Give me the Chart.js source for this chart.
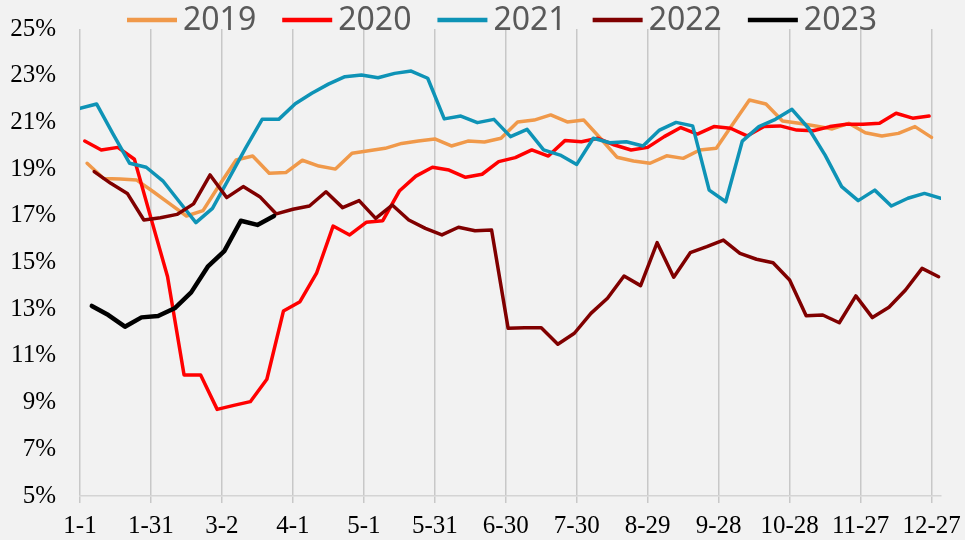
<!DOCTYPE html>
<html>
<head>
<meta charset="utf-8">
<script src="https://cdn.jsdelivr.net/npm/chart.js@4.4.1/dist/chart.umd.min.js"></script>
<style>
    html, body { margin: 0; padding: 0; background: #f2f2f2; }
    #wrap { width: 965px; height: 540px; }
</style>
</head>
<body>
<div id="wrap"><canvas id="rateChart" width="965" height="540"></canvas></div>
<script>
// x axis: day of year, ticks every 30 days
const tickDays = [0, 30, 60, 90, 120, 150, 180, 210, 240, 270, 300, 330, 360];
const tickLabels = ['1-1', '1-31', '3-2', '4-1', '5-1', '5-31', '6-30', '7-30', '8-29', '9-28', '10-28', '11-27', '12-27'];

// weekly series, first observation day of each year (day of year, 0 = 1-1)
const years = ['2019', '2020', '2021', '2022', '2023'];
const firstDay = [3, 2, 0, 6, 5];
const colors = ['#F0994A', '#FF0000', '#0E93B6', '#800000', '#000000'];

const v2019 = [19.25, 18.6, 18.58, 18.53, 18.03, 17.51, 16.99, 17.22, 18.33, 19.39,
    19.56, 18.82, 18.85, 19.38, 19.13, 19.0, 19.68, 19.79, 19.89, 20.1,
    20.2, 20.29, 19.99, 20.2, 20.16, 20.32, 21.02, 21.1, 21.32, 21.02,
    21.1, 20.32, 19.51, 19.35, 19.25, 19.57, 19.46, 19.82, 19.89, 20.93,
    21.96, 21.79, 21.06, 20.96, 20.85, 20.72, 20.96, 20.56, 20.42, 20.53,
    20.82, 20.36];
const v2020 = [20.2, 19.82, 19.93, 19.42, 16.9, 14.4, 10.18, 10.18, 8.71, 8.88,
    9.04, 10.0, 12.92, 13.32, 14.54, 16.56, 16.18, 16.72, 16.79, 18.06,
    18.7, 19.08, 18.96, 18.65, 18.78, 19.32, 19.49, 19.82, 19.56, 20.22,
    20.17, 20.32, 20.03, 19.82, 19.93, 20.39, 20.78, 20.5, 20.82, 20.75,
    20.42, 20.82, 20.85, 20.67, 20.64, 20.82, 20.92, 20.92, 20.96, 21.39,
    21.18, 21.27];
const v2021 = [21.6, 21.79, 20.5, 19.25, 19.08, 18.5, 17.6, 16.71, 17.32, 18.6,
    19.9, 21.13, 21.13, 21.8, 22.25, 22.64, 22.96, 23.03, 22.91, 23.1,
    23.2, 22.89, 21.15, 21.27, 20.99, 21.13, 20.39, 20.7, 19.82, 19.6,
    19.2, 20.32, 20.13, 20.17, 19.99, 20.67, 21.0, 20.85, 18.1, 17.6,
    20.2, 20.82, 21.13, 21.56, 20.75, 19.6, 18.25, 17.65, 18.1, 17.42,
    17.75, 17.96, 17.75];
const v2022 = [18.89, 18.39, 17.96, 16.82, 16.92, 17.06, 17.51, 18.75, 17.78, 18.25,
    17.82, 17.08, 17.28, 17.42, 18.03, 17.35, 17.65, 16.89, 17.46, 16.82,
    16.46, 16.18, 16.51, 16.36, 16.39, 12.18, 12.21, 12.21, 11.5, 11.97,
    12.82, 13.47, 14.42, 14.01, 15.85, 14.37, 15.42, 15.68, 15.96, 15.39,
    15.14, 14.99, 14.25, 12.72, 12.75, 12.42, 13.57, 12.64, 13.08, 13.82,
    14.75, 14.39];
const v2023 = [13.14, 12.75, 12.25, 12.65, 12.71, 13.04, 13.72, 14.82, 15.49, 16.79,
    16.61, 16.99];

const seriesValues = [v2019, v2020, v2021, v2022, v2023];

const datasets = years.map((year, i) => ({
    label: year,
    data: seriesValues[i].map((v, k) => ({ x: firstDay[i] + k * 7, y: v })),
    borderColor: colors[i],
    backgroundColor: colors[i],
    borderWidth: year === '2023' ? 4.5 : 3.5,
    pointRadius: 0,
    tension: 0,
    borderJoinStyle: 'round',
    borderCapStyle: 'round',
    order: years.length - i
}));

// legend drawn by hand so it can sit over the top of the plot like the original
const lineLegend = {
    id: 'lineLegend',
    afterDraw(chart) {
        const ctx = chart.ctx;
        ctx.save();
        ctx.font = '32px "Noto Sans", "Liberation Sans", sans-serif';
        ctx.textBaseline = 'middle';
        let x = 127;
        const y = 20;
        chart.data.datasets.forEach(ds => {
            ctx.strokeStyle = ds.borderColor;
            ctx.lineWidth = 4.5;
            ctx.lineCap = 'butt';
            ctx.beginPath();
            ctx.moveTo(x, y);
            ctx.lineTo(x + 50, y);
            ctx.stroke();
            ctx.fillStyle = '#595959';
            ctx.textAlign = 'left';
            ctx.fillText(ds.label, x + 56, y + 1);
            x += 56 + ctx.measureText(ds.label).width + 26;
        });
        ctx.restore();
    }
};

const serif = "'Liberation Serif', 'Times New Roman', serif";

new Chart(document.getElementById('rateChart'), {
    type: 'line',
    data: { datasets: datasets },
    options: {
        responsive: false,
        animation: false,
        layout: { padding: { top: 29, right: 24, left: 0, bottom: 0 } },
        plugins: {
            legend: { display: false },
            tooltip: { enabled: false }
        },
        scales: {
            x: {
                type: 'linear',
                min: 0,
                max: 364,
                afterBuildTicks: scale => {
                    scale.ticks = tickDays.map(d => ({ value: d }));
                },
                afterFit: scale => {
                    scale.height = 44;
                    scale.paddingLeft = 0;
                    scale.paddingRight = 0;
                },
                ticks: {
                    autoSkip: false,
                    maxRotation: 0,
                    padding: 8,
                    color: '#000000',
                    font: { family: serif, size: 25 },
                    callback: value => tickLabels[tickDays.indexOf(value)]
                },
                grid: {
                    color: '#c8c8c8',
                    lineWidth: 1.5,
                    drawTicks: true,
                    tickLength: 7
                },
                border: { color: '#d4d4d4', width: 1.5 }
            },
            y: {
                min: 5,
                max: 25,
                afterFit: scale => {
                    scale.width = 80;
                    scale.paddingTop = 0;
                    scale.paddingBottom = 0;
                },
                ticks: {
                    stepSize: 2,
                    padding: 24,
                    color: '#000000',
                    font: { family: serif, size: 25 },
                    callback: value => value + '%'
                },
                grid: { display: false, drawTicks: false },
                border: { display: false }
            }
        }
    },
    plugins: [lineLegend]
});
</script>
</body>
</html>
